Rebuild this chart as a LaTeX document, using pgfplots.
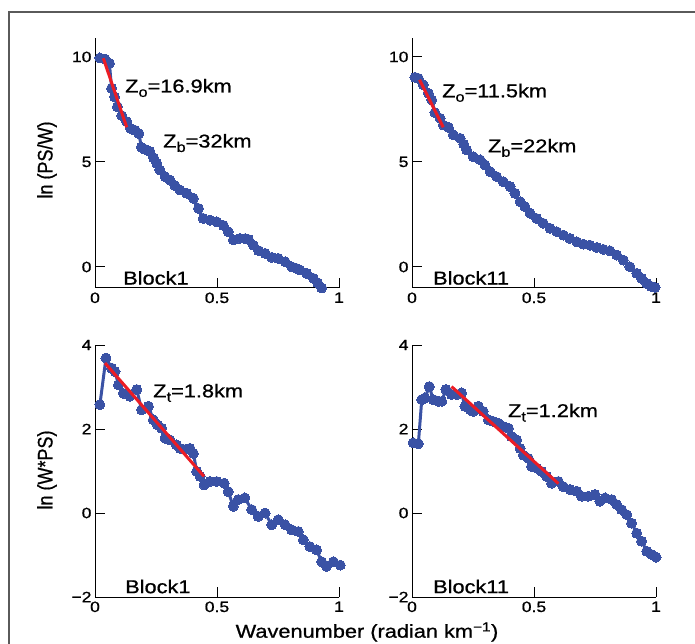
\documentclass[border=0pt]{standalone}
\usepackage{graphicx}
\usepackage{pgfplots}
\pgfplotsset{compat=1.18}
\usepackage{fontspec}
\setmainfont{Liberation Sans}[FakeBold=0.7]
\definecolor{dotblue}{RGB}{58,82,165}
\definecolor{fitred}{RGB}{236,28,36}
\definecolor{framegray}{RGB}{90,90,90}

\pgfplotstableread{
x y
0.020 9.95
0.041 9.90
0.059 9.70
0.068 8.50
0.080 8.10
0.092 7.63
0.110 7.20
0.130 6.92
0.145 6.60
0.165 6.50
0.180 6.35
0.190 5.70
0.205 5.60
0.225 5.50
0.240 5.20
0.253 4.94
0.266 4.62
0.287 4.30
0.307 4.14
0.328 3.87
0.348 3.67
0.376 3.51
0.403 3.27
0.424 2.79
0.444 2.31
0.471 2.23
0.499 2.15
0.526 1.98
0.546 1.68
0.567 1.29
0.594 1.36
0.615 1.35
0.629 1.31
0.649 1.04
0.670 0.78
0.697 0.65
0.724 0.46
0.751 0.41
0.779 0.25
0.806 0.01
0.822 -0.05
0.840 -0.14
0.867 -0.30
0.895 -0.54
0.912 -0.75
0.929 -1.00
}\TL

\pgfplotstableread{
x y
0.012 9.03
0.026 8.98
0.046 8.67
0.067 8.27
0.081 7.95
0.094 7.35
0.115 7.08
0.128 6.76
0.149 6.65
0.169 6.29
0.197 6.13
0.212 5.85
0.224 5.57
0.251 5.25
0.279 5.10
0.299 4.86
0.320 4.54
0.347 4.30
0.374 4.06
0.402 3.83
0.422 3.51
0.443 3.11
0.463 2.87
0.484 2.56
0.511 2.31
0.538 2.08
0.566 1.84
0.593 1.68
0.620 1.52
0.647 1.36
0.675 1.20
0.702 1.09
0.729 1.04
0.757 0.93
0.784 0.84
0.811 0.77
0.839 0.57
0.866 0.33
0.893 0.01
0.921 -0.30
0.941 -0.54
0.962 -0.78
0.980 -0.92
0.996 -0.97
}\TR

\pgfplotstableread{
x y
0.020 2.58
0.045 3.69
0.068 3.45
0.082 3.37
0.096 3.05
0.116 2.85
0.143 2.78
0.171 2.94
0.191 2.46
0.219 2.54
0.239 2.22
0.256 2.10
0.273 2.02
0.287 1.78
0.307 1.74
0.334 1.62
0.348 1.54
0.369 1.51
0.389 1.54
0.403 1.42
0.417 0.99
0.431 0.87
0.447 0.67
0.471 0.75
0.499 0.75
0.529 0.71
0.546 0.51
0.567 0.16
0.587 0.32
0.614 0.36
0.642 0.08
0.669 -0.08
0.697 0.00
0.724 -0.28
0.751 -0.16
0.779 -0.28
0.806 -0.40
0.833 -0.44
0.854 -0.64
0.881 -0.80
0.908 -0.88
0.929 -1.16
0.949 -1.27
0.977 -1.16
1.005 -1.24
}\BL

\pgfplotstableread{
x y
0.005 1.67
0.026 1.65
0.040 2.70
0.053 2.74
0.071 3.01
0.087 2.70
0.108 2.66
0.122 2.66
0.139 2.94
0.162 2.82
0.183 2.82
0.203 2.86
0.217 2.54
0.238 2.46
0.251 2.42
0.272 2.54
0.292 2.42
0.313 2.22
0.333 2.18
0.354 2.14
0.374 2.06
0.395 2.02
0.408 1.82
0.429 1.74
0.443 1.54
0.456 1.38
0.477 1.30
0.490 1.11
0.511 1.07
0.531 0.99
0.552 0.87
0.572 0.71
0.600 0.75
0.620 0.63
0.648 0.56
0.675 0.52
0.695 0.40
0.723 0.40
0.750 0.44
0.770 0.28
0.791 0.36
0.818 0.32
0.839 0.20
0.859 0.08
0.880 -0.04
0.900 -0.24
0.921 -0.48
0.941 -0.67
0.962 -0.91
0.982 -0.99
1.000 -1.05
}\BR

\newcommand{\sx}[1]{\scalebox{1.17}[1]{#1}}
\newcommand{\sub}[1]{\raisebox{-0.45ex}{\fontsize{14}{14}\selectfont #1}}

\pgfplotsset{
  geom/.style={scale only axis, width=244pt, xmin=0, xmax=1, clip=false},
  panel/.style={
    geom,
    axis lines*=left,
    axis line style={line width=1pt, black},
    tick style={line width=1pt, black},
    major tick length=10pt,
    tick align=inside,
    xtick={0,0.5,1}, xticklabels={\sx{0},\sx{0.5},\sx{1}},
    tick label style={font=\fontsize{15}{15}\selectfont},
    xticklabel style={yshift=-1pt},
  },
  overlay/.style={geom, hide axis},
  data/.style={color=dotblue, line width=3pt, mark=*, mark size=5pt,
    mark options={fill=dotblue, draw=dotblue, line width=0pt}},
  fit/.style={color=fitred, line width=3pt, no marks},
}
\tikzset{ann/.style={anchor=west, font=\fontsize{18.6}{19}\selectfont, inner sep=0pt}}

\begin{document}
\begin{tikzpicture}
\useasboundingbox (0pt,0pt) rectangle (695pt,643pt);
\draw[framegray, line width=1.5pt] (9pt,-5pt) -- (9pt,631pt) -- (700pt,631pt);

% top-left
\begin{axis}[panel, at={(95pt,355pt)}, anchor=south west, height=250pt,
  ymin=-1, ymax=10.9, ytick={0,5,10}, yticklabels={\sx{0},\sx{5},\sx{10}}]
\addplot[data] table[x=x,y=y]{\TL};
\node[ann] at (axis cs:0.123,8.52) {\sx{Z\sub{o}=16.9km}};
\node[ann] at (axis cs:0.279,5.90) {\sx{Z\sub{b}=32km}};
\node[ann] at (axis cs:0.115,-0.52) {\sx{Block1}};
\end{axis}
\begin{axis}[overlay, at={(95pt,355pt)}, anchor=south west, height=250pt, ymin=-1, ymax=10.9]
\addplot[fit] coordinates {(0.034,9.94) (0.130,6.65)};
\end{axis}

% top-right
\begin{axis}[panel, at={(412pt,355pt)}, anchor=south west, height=250pt,
  ymin=-1, ymax=10.9, ytick={0,5,10}, yticklabels={\sx{0},\sx{5},\sx{10}}]
\addplot[data] table[x=x,y=y]{\TR};
\node[ann] at (axis cs:0.123,8.29) {\sx{Z\sub{o}=11.5km}};
\node[ann] at (axis cs:0.311,5.67) {\sx{Z\sub{b}=22km}};
\node[ann] at (axis cs:0.086,-0.52) {\sx{Block11}};
\end{axis}
\begin{axis}[overlay, at={(412pt,355pt)}, anchor=south west, height=250pt, ymin=-1, ymax=10.9]
\addplot[fit] coordinates {(0.031,8.91) (0.128,6.65)};
\end{axis}

% bottom-left
\begin{axis}[panel, at={(95pt,46pt)}, anchor=south west, height=252pt,
  ymin=-2, ymax=4, ytick={-2,0,2,4}, yticklabels={\sx{−2},\sx{0},\sx{2},\sx{4}}]
\addplot[data] table[x=x,y=y]{\BL};
\node[ann] at (axis cs:0.238,2.86) {\sx{Z\sub{t}=1.8km}};
\node[ann] at (axis cs:0.123,-1.75) {\sx{Block1}};
\end{axis}
\begin{axis}[overlay, at={(95pt,46pt)}, anchor=south west, height=252pt, ymin=-2, ymax=4]
\addplot[fit] coordinates {(0.041,3.57) (0.447,0.87)};
\end{axis}

% bottom-right
\begin{axis}[panel, at={(412pt,46pt)}, anchor=south west, height=252pt,
  ymin=-2, ymax=4, ytick={-2,0,2,4}, yticklabels={\sx{−2},\sx{0},\sx{2},\sx{4}}]
\addplot[data] table[x=x,y=y]{\BR};
\node[ann] at (axis cs:0.393,2.39) {\sx{Z\sub{t}=1.2km}};
\node[ann] at (axis cs:0.086,-1.75) {\sx{Block11}};
\end{axis}
\begin{axis}[overlay, at={(412pt,46pt)}, anchor=south west, height=252pt, ymin=-2, ymax=4]
\addplot[fit] coordinates {(0.162,3.01) (0.600,0.70)};
\end{axis}

\node[rotate=90, font=\fontsize{18}{18}\selectfont] at (47pt,483pt) {\scalebox{1}[1.17]{ln (PS/W)}};
\node[rotate=90, font=\fontsize{18}{18}\selectfont] at (47pt,173pt) {\scalebox{1}[1.17]{ln (W*PS)}};
\node[font=\fontsize{18.6}{19}\selectfont] at (367pt,11pt) {\sx{Wavenumber (radian km\textsuperscript{−1})}};
\end{tikzpicture}
\end{document}
